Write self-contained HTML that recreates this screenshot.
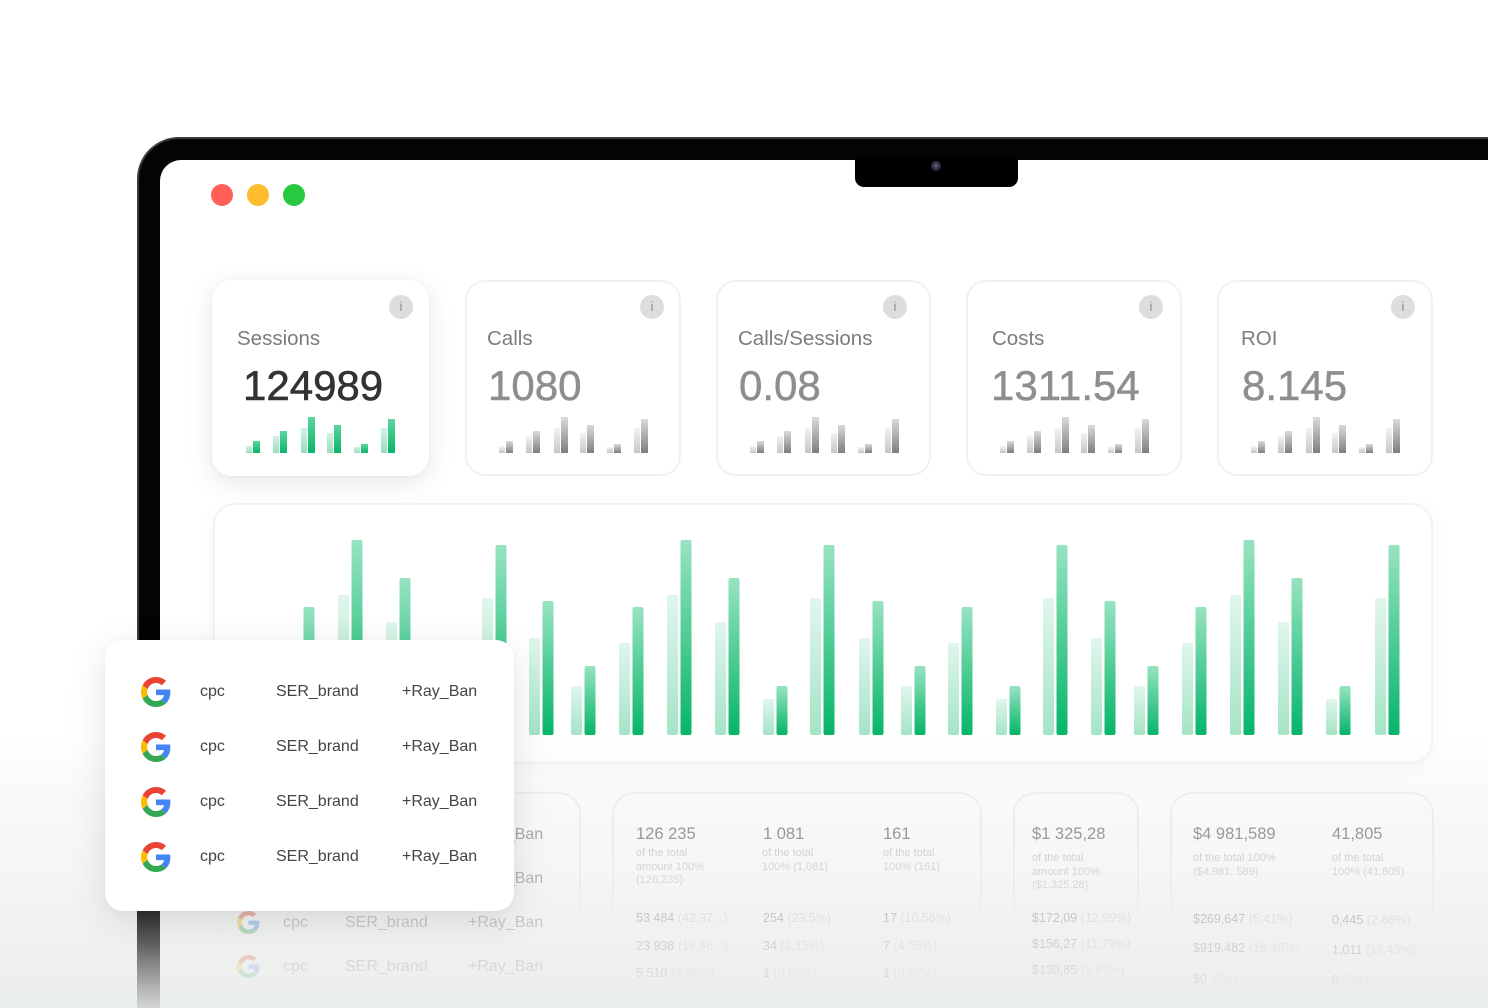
<!DOCTYPE html>
<html><head><meta charset="utf-8">
<style>
*{margin:0;padding:0;box-sizing:border-box}
html,body{width:1488px;height:1008px;overflow:hidden;background:#fff;font-family:"Liberation Sans",Arial,sans-serif}
#wrap{position:relative;width:1488px;height:1008px;overflow:hidden;background:#fff}
.a{position:absolute}
.frame{left:137px;top:137px;width:1450px;height:900px;background:#040404;border-radius:42px;border:2px solid #3c3c3c}
.screen{left:160px;top:160px;width:1420px;height:870px;background:#fff;border-radius:21px}
.notch{left:855px;top:158px;width:163px;height:29px;background:#000;border-radius:0 0 9px 9px}
.cam{left:931px;top:161px;width:10px;height:10px;border-radius:50%;background:radial-gradient(circle at 50% 45%,#6a6a8a 0,#35344a 40%,#1b1b26 100%)}
.dot{width:22px;height:22px;border-radius:50%;top:184px}
.card{top:280px;height:196px;border:2px solid #f1f1f1;border-radius:20px;background:#fff}
.card.s{border:none;box-shadow:0 6px 26px rgba(0,0,0,.10),0 1px 4px rgba(0,0,0,.04)}
.info{width:24px;height:24px;border-radius:50%;background:#dddddd;color:#8a8a8a;font-size:13px;line-height:24px;text-align:center;top:295px}
.lbl{font-size:20.5px;line-height:20.5px;color:#7c7c7c;top:329px;white-space:nowrap}
.val{font-size:42px;line-height:42px;top:365px;color:#8e8e8e;-webkit-text-stroke:.5px #8e8e8e;white-space:nowrap}
.panel{left:213px;top:503px;width:1220px;height:261px;border:2px solid #f2f2f2;border-radius:22px;background:#fff;box-shadow:0 4px 18px rgba(0,0,0,.035)}
.tc{top:792px;height:140px;border:2px solid #eeeeee;border-bottom:none;border-radius:22px 22px 0 0;background:#fff;-webkit-mask-image:linear-gradient(180deg,#000 0%,#000 65%,transparent 100%);mask-image:linear-gradient(180deg,#000 0%,#000 65%,transparent 100%)}
.big{font-size:16.5px;line-height:16.5px;color:#5e5e5e;white-space:nowrap}
.desc{font-size:11px;line-height:13.5px;color:#bdbdbd;white-space:nowrap}
.row{font-size:12.5px;line-height:12.5px;color:#7a7a7a;white-space:nowrap}
.row span{color:#c8c8c8}
.tt{font-size:16px;line-height:16px;color:#7a7a7a;white-space:nowrap}
.overlay{left:0;top:735px;width:1488px;height:273px;background:linear-gradient(180deg,rgba(234,237,235,0) 0px,rgba(234,237,235,.33) 60px,rgba(234,237,235,.48) 130px,rgba(234,237,235,.68) 185px,rgba(234,237,235,.84) 235px,rgba(232,236,234,.94) 273px)}
.popup{left:105px;top:640px;width:409px;height:271px;background:#fff;border-radius:18px;box-shadow:0 10px 40px rgba(0,0,0,.11),0 1px 6px rgba(0,0,0,.04)}
.pt{font-size:16px;line-height:16px;color:#444;white-space:nowrap}
.g{width:30px;height:30px}
.gs{width:23px;height:23px}
</style></head><body>
<div id="wrap">

<div class="a frame"></div>
<div class="a screen"></div>
<div class="a notch"></div>
<div class="a cam"></div>

<div class="a dot" style="left:211px;background:#ff5f57"></div>
<div class="a dot" style="left:247px;background:#febc2e"></div>
<div class="a dot" style="left:283px;background:#28c840"></div>

<div class="a card s" style="left:212px;width:217px"></div>
<div class="a card" style="left:465px;width:216px"></div>
<div class="a card" style="left:716px;width:215px"></div>
<div class="a card" style="left:966px;width:216px"></div>
<div class="a card" style="left:1217px;width:216px"></div>

<div class="a info" style="left:389px">i</div>
<div class="a info" style="left:640px">i</div>
<div class="a info" style="left:883px">i</div>
<div class="a info" style="left:1139px">i</div>
<div class="a info" style="left:1391px">i</div>

<div class="a lbl" style="left:237px">Sessions</div>
<div class="a lbl" style="left:487px">Calls</div>
<div class="a lbl" style="left:738px">Calls/Sessions</div>
<div class="a lbl" style="left:992px">Costs</div>
<div class="a lbl" style="left:1241px">ROI</div>

<div class="a val" style="left:243px;color:#333;-webkit-text-stroke:.6px #333">124989</div>
<div class="a val" style="left:488px">1080</div>
<div class="a val" style="left:739px">0.08</div>
<div class="a val" style="left:991px">1311.54</div>
<div class="a val" style="left:1242px">8.145</div>

<div class="a panel"></div>

<div class="a tc" style="left:218px;width:363px"></div>
<div class="a tc" style="left:612px;width:370px"></div>
<div class="a tc" style="left:1013px;width:126px"></div>
<div class="a tc" style="left:1170px;width:264px"></div>

<svg class="a" style="left:0;top:0" width="1488" height="1008" viewBox="0 0 1488 1008">
<defs>
<linearGradient id="gd" x1="0" y1="0" x2="0" y2="1"><stop offset="0" stop-color="#97e3c1"/><stop offset="1" stop-color="#05b569"/></linearGradient>
<linearGradient id="gl" x1="0" y1="0" x2="0" y2="1"><stop offset="0" stop-color="#e0f6ec"/><stop offset="1" stop-color="#a4e4c6"/></linearGradient>
<linearGradient id="md" x1="0" y1="0" x2="0" y2="1"><stop offset="0" stop-color="#5ad59f"/><stop offset="1" stop-color="#0cb46a"/></linearGradient>
<linearGradient id="ml" x1="0" y1="0" x2="0" y2="1"><stop offset="0" stop-color="#d4f2e4"/><stop offset="1" stop-color="#96dfbd"/></linearGradient>
<linearGradient id="rd" x1="0" y1="0" x2="0" y2="1"><stop offset="0" stop-color="#dadada"/><stop offset="1" stop-color="#7e7e7e"/></linearGradient>
<linearGradient id="rl" x1="0" y1="0" x2="0" y2="1"><stop offset="0" stop-color="#f3f3f3"/><stop offset="1" stop-color="#c6c6c6"/></linearGradient>
<g id="mg">
<rect x="0" y="446" width="6" height="7" fill="url(#ml)"/><rect x="7" y="441" width="7" height="12" fill="url(#md)"/>
<rect x="27" y="436" width="6" height="17" fill="url(#ml)"/><rect x="34" y="431" width="7" height="22" fill="url(#md)"/>
<rect x="55" y="428" width="6" height="25" fill="url(#ml)"/><rect x="62" y="417" width="7" height="36" fill="url(#md)"/>
<rect x="81" y="433" width="6" height="20" fill="url(#ml)"/><rect x="88" y="425" width="7" height="28" fill="url(#md)"/>
<rect x="108" y="447" width="6" height="6" fill="url(#ml)"/><rect x="115" y="444" width="7" height="9" fill="url(#md)"/>
<rect x="135" y="428" width="6" height="25" fill="url(#ml)"/><rect x="142" y="419" width="7" height="34" fill="url(#md)"/>
</g>
<g id="mr">
<rect x="0" y="446" width="6" height="7" fill="url(#rl)"/><rect x="7" y="441" width="7" height="12" fill="url(#rd)"/>
<rect x="27" y="436" width="6" height="17" fill="url(#rl)"/><rect x="34" y="431" width="7" height="22" fill="url(#rd)"/>
<rect x="55" y="428" width="6" height="25" fill="url(#rl)"/><rect x="62" y="417" width="7" height="36" fill="url(#rd)"/>
<rect x="81" y="433" width="6" height="20" fill="url(#rl)"/><rect x="88" y="425" width="7" height="28" fill="url(#rd)"/>
<rect x="108" y="447" width="6" height="6" fill="url(#rl)"/><rect x="115" y="444" width="7" height="9" fill="url(#rd)"/>
<rect x="135" y="428" width="6" height="25" fill="url(#rl)"/><rect x="142" y="419" width="7" height="34" fill="url(#rd)"/>
</g>
</defs>
<use href="#mg" x="246"/>
<use href="#mr" x="499"/>
<use href="#mr" x="750"/>
<use href="#mr" x="1000"/>
<use href="#mr" x="1251"/>

<g>
<rect x="290" y="643" width="11" height="92" rx="2" fill="url(#gl)"/><rect x="303.5" y="607" width="11" height="128" rx="2" fill="url(#gd)"/>
<rect x="338" y="595" width="11" height="140" rx="2" fill="url(#gl)"/><rect x="351.5" y="540" width="11" height="195" rx="2" fill="url(#gd)"/>
<rect x="386" y="622" width="11" height="113" rx="2" fill="url(#gl)"/><rect x="399.5" y="578" width="11" height="157" rx="2" fill="url(#gd)"/>
<rect x="434" y="699" width="11" height="36" rx="2" fill="url(#gl)"/><rect x="447.5" y="686" width="11" height="49" rx="2" fill="url(#gd)"/>
<rect x="482" y="598" width="11" height="137" rx="2" fill="url(#gl)"/><rect x="495.5" y="545" width="11" height="190" rx="2" fill="url(#gd)"/>
<rect x="529" y="638" width="11" height="97" rx="2" fill="url(#gl)"/><rect x="542.5" y="601" width="11" height="134" rx="2" fill="url(#gd)"/>
<rect x="571" y="686" width="11" height="49" rx="2" fill="url(#gl)"/><rect x="584.5" y="666" width="11" height="69" rx="2" fill="url(#gd)"/>
<rect x="619" y="643" width="11" height="92" rx="2" fill="url(#gl)"/><rect x="632.5" y="607" width="11" height="128" rx="2" fill="url(#gd)"/>
<rect x="667" y="595" width="11" height="140" rx="2" fill="url(#gl)"/><rect x="680.5" y="540" width="11" height="195" rx="2" fill="url(#gd)"/>
<rect x="715" y="622" width="11" height="113" rx="2" fill="url(#gl)"/><rect x="728.5" y="578" width="11" height="157" rx="2" fill="url(#gd)"/>
<rect x="763" y="699" width="11" height="36" rx="2" fill="url(#gl)"/><rect x="776.5" y="686" width="11" height="49" rx="2" fill="url(#gd)"/>
<rect x="810" y="598" width="11" height="137" rx="2" fill="url(#gl)"/><rect x="823.5" y="545" width="11" height="190" rx="2" fill="url(#gd)"/>
<rect x="859" y="638" width="11" height="97" rx="2" fill="url(#gl)"/><rect x="872.5" y="601" width="11" height="134" rx="2" fill="url(#gd)"/>
<rect x="901" y="686" width="11" height="49" rx="2" fill="url(#gl)"/><rect x="914.5" y="666" width="11" height="69" rx="2" fill="url(#gd)"/>
<rect x="948" y="643" width="11" height="92" rx="2" fill="url(#gl)"/><rect x="961.5" y="607" width="11" height="128" rx="2" fill="url(#gd)"/>
<rect x="996" y="699" width="11" height="36" rx="2" fill="url(#gl)"/><rect x="1009.5" y="686" width="11" height="49" rx="2" fill="url(#gd)"/>
<rect x="1043" y="598" width="11" height="137" rx="2" fill="url(#gl)"/><rect x="1056.5" y="545" width="11" height="190" rx="2" fill="url(#gd)"/>
<rect x="1091" y="638" width="11" height="97" rx="2" fill="url(#gl)"/><rect x="1104.5" y="601" width="11" height="134" rx="2" fill="url(#gd)"/>
<rect x="1134" y="686" width="11" height="49" rx="2" fill="url(#gl)"/><rect x="1147.5" y="666" width="11" height="69" rx="2" fill="url(#gd)"/>
<rect x="1182" y="643" width="11" height="92" rx="2" fill="url(#gl)"/><rect x="1195.5" y="607" width="11" height="128" rx="2" fill="url(#gd)"/>
<rect x="1230" y="595" width="11" height="140" rx="2" fill="url(#gl)"/><rect x="1243.5" y="540" width="11" height="195" rx="2" fill="url(#gd)"/>
<rect x="1278" y="622" width="11" height="113" rx="2" fill="url(#gl)"/><rect x="1291.5" y="578" width="11" height="157" rx="2" fill="url(#gd)"/>
<rect x="1326" y="699" width="11" height="36" rx="2" fill="url(#gl)"/><rect x="1339.5" y="686" width="11" height="49" rx="2" fill="url(#gd)"/>
<rect x="1375" y="598" width="11" height="137" rx="2" fill="url(#gl)"/><rect x="1388.5" y="545" width="11" height="190" rx="2" fill="url(#gd)"/>
</g>
</svg>

<div class="a tt" style="left:468px;top:827px">+Ray_Ban</div>
<div class="a tt" style="left:468px;top:871px">+Ray_Ban</div>
<svg class="a gs" style="left:237px;top:911px" viewBox="0 0 48 48"><path fill="#EA4335" d="M24 9.5c3.54 0 6.71 1.22 9.21 3.6l6.85-6.85C35.9 2.38 30.470 0 24 0 14.62 0 6.51 5.38 2.56 13.22l7.98 6.19C12.43 13.72 17.74 9.5 24 9.5z"/><path fill="#4285F4" d="M46.98 24.55c0-1.57-.15-3.09-.38-4.55H24v9.02h12.94c-.58 2.96-2.26 5.48-4.78 7.18l7.73 6c4.51-4.18 7.09-10.36 7.09-17.65z"/><path fill="#FBBC05" d="M10.53 28.59c-.48-1.45-.76-2.99-.76-4.59s.27-3.14.76-4.59l-7.98-6.19C.92 16.46 0 20.12 0 24c0 3.88.92 7.54 2.56 10.78l7.97-6.19z"/><path fill="#34A853" d="M24 48c6.48 0 11.93-2.13 15.89-5.81l-7.73-6c-2.15 1.45-4.92 2.3-8.16 2.3-6.26 0-11.57-4.22-13.47-9.91l-7.98 6.19C6.51 42.62 14.62 48 24 48z"/></svg>
<div class="a tt" style="left:283px;top:915px">cpc</div>
<div class="a tt" style="left:345px;top:915px">SER_brand</div>
<div class="a tt" style="left:468px;top:915px">+Ray_Ban</div>
<svg class="a gs" style="left:237px;top:955px" viewBox="0 0 48 48"><path fill="#EA4335" d="M24 9.5c3.54 0 6.71 1.22 9.21 3.6l6.85-6.85C35.9 2.38 30.47 0 24 0 14.62 0 6.51 5.38 2.56 13.22l7.98 6.19C12.43 13.72 17.74 9.5 24 9.5z"/><path fill="#4285F4" d="M46.98 24.55c0-1.57-.15-3.09-.38-4.55H24v9.02h12.94c-.58 2.96-2.26 5.48-4.78 7.18l7.73 6c4.51-4.18 7.09-10.36 7.09-17.65z"/><path fill="#FBBC05" d="M10.53 28.59c-.48-1.45-.76-2.99-.76-4.59s.27-3.14.76-4.59l-7.98-6.19C.92 16.46 0 20.12 0 24c0 3.88.92 7.54 2.56 10.78l7.97-6.19z"/><path fill="#34A853" d="M24 48c6.48 0 11.93-2.13 15.89-5.81l-7.73-6c-2.15 1.45-4.92 2.3-8.16 2.3-6.26 0-11.57-4.22-13.47-9.91l-7.98 6.19C6.51 42.62 14.62 48 24 48z"/></svg>
<div class="a tt" style="left:283px;top:959px">cpc</div>
<div class="a tt" style="left:345px;top:959px">SER_brand</div>
<div class="a tt" style="left:468px;top:959px">+Ray_Ban</div>

<div class="a big" style="left:636px;top:826px">126 235</div>
<div class="a desc" style="left:636px;top:847px">of the total<br>amount 100%<br>(126,235)</div>
<div class="a big" style="left:763px;top:826px">1 081</div>
<div class="a desc" style="left:762px;top:847px">of the total<br>100% (1,081)</div>
<div class="a big" style="left:883px;top:826px">161</div>
<div class="a desc" style="left:883px;top:847px">of the total<br>100% (161)</div>
<div class="a row" style="left:636px;top:912px">53 484 <span>(42,37...)</span></div>
<div class="a row" style="left:763px;top:912px">254 <span>(23,5%)</span></div>
<div class="a row" style="left:883px;top:912px">17 <span>(10,56%)</span></div>
<div class="a row" style="left:636px;top:940px">23 938 <span>(18,96...)</span></div>
<div class="a row" style="left:763px;top:940px">34 <span>(3,15%)</span></div>
<div class="a row" style="left:883px;top:940px">7 <span>(4,35%)</span></div>
<div class="a row" style="left:636px;top:967px">5 510 <span>(4,36%)</span></div>
<div class="a row" style="left:763px;top:967px">1 <span>(0,09%)</span></div>
<div class="a row" style="left:883px;top:967px">1 <span>(0,62%)</span></div>

<div class="a big" style="left:1032px;top:826px">$1 325,28</div>
<div class="a desc" style="left:1032px;top:852px">of the total<br>amount 100%<br>($1,325.28)</div>
<div class="a row" style="left:1032px;top:912px">$172,09 <span>(12,99%)</span></div>
<div class="a row" style="left:1032px;top:938px">$156,27 <span>(11,79%)</span></div>
<div class="a row" style="left:1032px;top:964px">$130,85 <span>(9,87%)</span></div>

<div class="a big" style="left:1193px;top:826px">$4 981,589</div>
<div class="a desc" style="left:1193px;top:852px">of the total 100%<br>($4,981, 589)</div>
<div class="a big" style="left:1332px;top:826px">41,805</div>
<div class="a desc" style="left:1332px;top:852px">of the total<br>100% (41,805)</div>
<div class="a row" style="left:1193px;top:913px">$269,647 <span>(5,41%)</span></div>
<div class="a row" style="left:1193px;top:942px">$919,482 <span>(18,46%)</span></div>
<div class="a row" style="left:1193px;top:973px">$0 <span>(0%)</span></div>
<div class="a row" style="left:1332px;top:914px">0,445 <span>(2,66%)</span></div>
<div class="a row" style="left:1332px;top:944px">1,011 <span>(11,43%)</span></div>
<div class="a row" style="left:1332px;top:974px">0 <span>(0%)</span></div>

<div class="a overlay"></div>
<div class="a" style="left:137px;top:905px;width:23px;height:103px;background:linear-gradient(180deg,#262626 0%,#5a5b5a 35%,#a8aaa9 75%,#d4d7d5 100%)"></div>

<div class="a popup"></div>
<svg class="a g" style="left:141px;top:677px" viewBox="0 0 48 48"><path fill="#EA4335" d="M24 9.5c3.54 0 6.71 1.22 9.21 3.6l6.85-6.85C35.9 2.38 30.47 0 24 0 14.62 0 6.51 5.38 2.56 13.22l7.98 6.19C12.43 13.72 17.74 9.5 24 9.5z"/><path fill="#4285F4" d="M46.98 24.55c0-1.57-.15-3.09-.38-4.55H24v9.02h12.94c-.58 2.96-2.26 5.48-4.78 7.18l7.73 6c4.51-4.18 7.09-10.36 7.09-17.65z"/><path fill="#FBBC05" d="M10.53 28.59c-.48-1.45-.76-2.99-.76-4.59s.27-3.14.76-4.59l-7.98-6.19C.92 16.46 0 20.12 0 24c0 3.88.92 7.54 2.56 10.78l7.97-6.19z"/><path fill="#34A853" d="M24 48c6.48 0 11.93-2.13 15.89-5.81l-7.73-6c-2.15 1.45-4.92 2.3-8.16 2.3-6.26 0-11.57-4.22-13.47-9.91l-7.98 6.19C6.51 42.62 14.62 48 24 48z"/></svg>
<svg class="a g" style="left:141px;top:732px" viewBox="0 0 48 48"><path fill="#EA4335" d="M24 9.5c3.54 0 6.71 1.22 9.21 3.6l6.85-6.85C35.9 2.38 30.47 0 24 0 14.62 0 6.51 5.38 2.56 13.22l7.98 6.19C12.43 13.72 17.74 9.5 24 9.5z"/><path fill="#4285F4" d="M46.98 24.55c0-1.57-.15-3.09-.38-4.55H24v9.02h12.94c-.58 2.96-2.26 5.48-4.78 7.18l7.73 6c4.51-4.18 7.09-10.36 7.09-17.65z"/><path fill="#FBBC05" d="M10.53 28.59c-.48-1.45-.76-2.99-.76-4.59s.27-3.14.76-4.59l-7.98-6.19C.92 16.46 0 20.12 0 24c0 3.88.92 7.54 2.56 10.78l7.97-6.19z"/><path fill="#34A853" d="M24 48c6.48 0 11.93-2.13 15.89-5.81l-7.73-6c-2.15 1.45-4.92 2.3-8.16 2.3-6.26 0-11.57-4.22-13.47-9.91l-7.98 6.19C6.51 42.62 14.62 48 24 48z"/></svg>
<svg class="a g" style="left:141px;top:787px" viewBox="0 0 48 48"><path fill="#EA4335" d="M24 9.5c3.54 0 6.71 1.22 9.21 3.6l6.85-6.85C35.9 2.38 30.47 0 24 0 14.62 0 6.51 5.38 2.56 13.22l7.98 6.19C12.43 13.72 17.74 9.5 24 9.5z"/><path fill="#4285F4" d="M46.98 24.55c0-1.57-.15-3.09-.38-4.55H24v9.02h12.94c-.58 2.96-2.26 5.48-4.78 7.18l7.73 6c4.51-4.18 7.09-10.36 7.09-17.65z"/><path fill="#FBBC05" d="M10.53 28.59c-.48-1.45-.76-2.99-.76-4.59s.27-3.14.76-4.59l-7.98-6.19C.92 16.46 0 20.12 0 24c0 3.88.92 7.54 2.56 10.78l7.97-6.19z"/><path fill="#34A853" d="M24 48c6.48 0 11.93-2.13 15.89-5.81l-7.73-6c-2.15 1.45-4.92 2.3-8.16 2.3-6.26 0-11.57-4.22-13.47-9.91l-7.98 6.19C6.51 42.62 14.62 48 24 48z"/></svg>
<svg class="a g" style="left:141px;top:842px" viewBox="0 0 48 48"><path fill="#EA4335" d="M24 9.5c3.54 0 6.71 1.22 9.21 3.6l6.85-6.85C35.9 2.38 30.47 0 24 0 14.62 0 6.51 5.38 2.56 13.22l7.98 6.19C12.43 13.72 17.74 9.5 24 9.5z"/><path fill="#4285F4" d="M46.98 24.55c0-1.57-.15-3.09-.38-4.55H24v9.02h12.94c-.58 2.96-2.26 5.48-4.78 7.18l7.73 6c4.51-4.18 7.09-10.36 7.09-17.65z"/><path fill="#FBBC05" d="M10.53 28.59c-.48-1.45-.76-2.99-.76-4.59s.27-3.14.76-4.59l-7.98-6.19C.92 16.46 0 20.12 0 24c0 3.88.92 7.54 2.56 10.78l7.97-6.19z"/><path fill="#34A853" d="M24 48c6.48 0 11.93-2.13 15.89-5.81l-7.73-6c-2.15 1.45-4.92 2.3-8.16 2.3-6.26 0-11.57-4.22-13.47-9.91l-7.98 6.19C6.51 42.62 14.62 48 24 48z"/></svg>

<div class="a pt" style="left:200px;top:684px">cpc</div>
<div class="a pt" style="left:276px;top:684px">SER_brand</div>
<div class="a pt" style="left:402px;top:684px">+Ray_Ban</div>
<div class="a pt" style="left:200px;top:739px">cpc</div>
<div class="a pt" style="left:276px;top:739px">SER_brand</div>
<div class="a pt" style="left:402px;top:739px">+Ray_Ban</div>
<div class="a pt" style="left:200px;top:794px">cpc</div>
<div class="a pt" style="left:276px;top:794px">SER_brand</div>
<div class="a pt" style="left:402px;top:794px">+Ray_Ban</div>
<div class="a pt" style="left:200px;top:849px">cpc</div>
<div class="a pt" style="left:276px;top:849px">SER_brand</div>
<div class="a pt" style="left:402px;top:849px">+Ray_Ban</div>

</div>
</body></html>
